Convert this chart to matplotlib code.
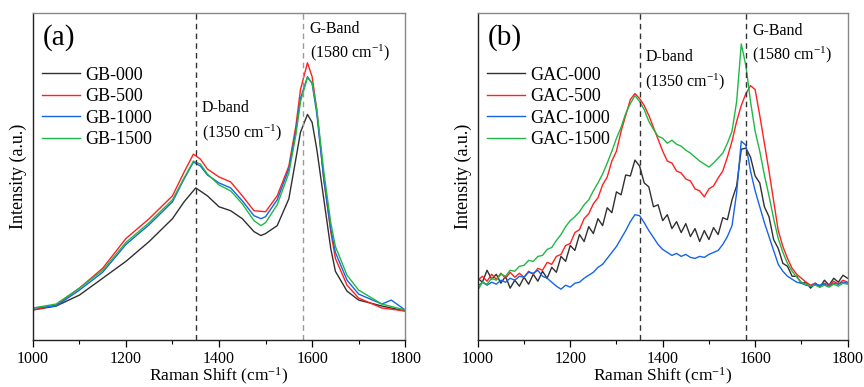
import numpy as np
import matplotlib
matplotlib.use("Agg")
import matplotlib.pyplot as plt
from matplotlib.ticker import MultipleLocator

plt.rcParams['font.family'] = ['Liberation Serif', 'DejaVu Serif']
plt.rcParams['mathtext.fontset'] = 'custom'
plt.rcParams['mathtext.rm'] = 'Liberation Serif'
plt.rcParams['mathtext.it'] = 'Liberation Serif:italic'

# ---- panel (a): GB samples (intensity in arbitrary units) ----
gb_000_x = [1000, 1050, 1100, 1150, 1200, 1250, 1300, 1325, 1350, 1375, 1400, 1425, 1450, 1475,
            1490, 1500, 1525, 1550, 1565, 1575, 1590, 1600, 1610, 1625, 1640, 1650, 1675, 1700,
            1750, 1800]
gb_000_y = [30, 34, 45, 62, 79, 99, 122, 139, 153, 145, 134, 130, 122, 109,
            105, 107, 115, 142, 182, 209, 227, 219, 192, 142, 92, 69, 49, 40,
            34, 29]

gb_500_x = [1000, 1050, 1100, 1150, 1200, 1250, 1300, 1325, 1345, 1360, 1375, 1400, 1425, 1450,
            1475, 1500, 1525, 1550, 1565, 1575, 1590, 1600, 1610, 1625, 1640, 1650, 1675, 1700,
            1750, 1800]
gb_500_y = [30, 35, 52, 72, 102, 122, 145, 169, 187, 182, 172, 164, 159, 145,
            130, 129, 145, 175, 215, 252, 279, 265, 232, 162, 109, 82, 55, 42,
            32, 29]

gb_1000_x = [1000, 1050, 1100, 1150, 1200, 1250, 1300, 1325, 1345, 1360, 1375, 1400, 1425, 1450,
             1475, 1490, 1500, 1525, 1550, 1565, 1575, 1590, 1600, 1610, 1625, 1640, 1650, 1675,
             1700, 1750, 1770, 1800]
gb_1000_y = [32, 34, 50, 68, 96, 116, 139, 162, 179, 175, 166, 158, 153, 140,
             125, 122, 124, 141, 172, 210, 243, 265, 258, 228, 162, 112, 88, 60,
             46, 36, 40, 30]

gb_1500_x = [1000, 1050, 1100, 1150, 1200, 1250, 1300, 1325, 1345, 1360, 1375, 1400, 1425, 1450,
             1475, 1490, 1500, 1525, 1550, 1565, 1575, 1590, 1600, 1610, 1625, 1640, 1650, 1675,
             1700, 1750, 1800]
gb_1500_y = [32, 36, 52, 70, 98, 118, 141, 163, 180, 177, 167, 156, 150, 137,
             120, 115, 118, 136, 168, 206, 240, 264, 259, 232, 170, 118, 94, 65,
             50, 36, 30]

# ---- panel (b): GAC samples, 10 cm-1 steps from 1000 to 1800 ----
gac_x = list(range(1000, 1801, 10))
gac_000 = [62, 58, 70, 61, 66, 57, 64, 52, 60, 54, 63, 56, 66, 59, 69, 62, 73, 68, 84, 79,
           95, 90, 106, 99, 114, 107, 122, 115, 133, 128, 149, 146, 166, 165, 181, 175, 158, 154,
           134, 136, 120, 126, 112, 119, 108, 117, 104, 112, 99, 110, 101, 113, 106, 123, 121,
           141, 155, 192, 193, 184, 165, 158, 134, 124, 101, 92, 77, 74, 64, 64, 57, 58, 52, 57,
           53, 60, 55, 62, 58, 65, 62]
gac_500 = [60, 64, 59, 66, 61, 67, 62, 68, 63, 67, 63, 69, 66, 72, 70, 78, 76, 84, 86, 95,
           97, 108, 111, 122, 127, 137, 143, 156, 164, 180, 190, 210, 226, 242, 248, 243, 236,
           226, 214, 202, 190, 180, 178, 170, 168, 162, 160, 152, 150, 144, 152, 155, 163, 170,
           184, 200, 220, 236, 248, 256, 252, 226, 198, 170, 140, 110, 94, 82, 72, 66, 62, 58,
           55, 57, 54, 57, 55, 59, 56, 60, 58]
gac_1000 = [54, 58, 55, 58, 56, 60, 58, 62, 60, 64, 63, 68, 67, 70, 64, 62, 58, 54, 51, 55,
            53, 57, 58, 62, 65, 68, 73, 76, 82, 88, 94, 102, 110, 119, 126, 125, 118, 110, 103,
            96, 91, 88, 85, 87, 84, 86, 83, 82, 84, 83, 86, 88, 90, 96, 104, 115, 148, 200, 196,
            170, 150, 134, 118, 104, 90, 76, 69, 64, 61, 58, 57, 55, 54, 56, 55, 56, 54, 57, 56,
            58, 57]
gac_1500 = [50, 58, 56, 62, 60, 66, 64, 70, 69, 74, 75, 80, 79, 84, 85, 91, 93, 100, 106, 114,
            120, 124, 129, 136, 141, 150, 158, 167, 178, 190, 203, 214, 228, 238, 246, 240, 232,
            220, 212, 205, 203, 198, 201, 197, 195, 191, 188, 184, 180, 177, 174, 178, 183, 188,
            198, 210, 240, 298, 276, 240, 210, 190, 166, 145, 122, 102, 88, 77, 69, 63, 58, 56,
            54, 55, 53, 55, 53, 56, 54, 57, 56]

colors = ['#303030', '#ff2020', '#1565e8', '#20b845']
gb_labels = ['GB-000', 'GB-500', 'GB-1000', 'GB-1500']
gac_labels = ['GAC-000', 'GAC-500', 'GAC-1000', 'GAC-1500']

fig = plt.figure(figsize=(8.64, 3.87), dpi=100)
ax1 = fig.add_axes([0.038, 0.122, 0.431, 0.844])
ax2 = fig.add_axes([0.553, 0.122, 0.428, 0.844])

gb_sets = [(gb_000_x, gb_000_y), (gb_500_x, gb_500_y), (gb_1000_x, gb_1000_y), (gb_1500_x, gb_1500_y)]
for (xs, ys), c, lab in zip(gb_sets, colors, gb_labels):
    ax1.plot(xs, ys, color=c, lw=1.0, label=lab)

for ys, c, lab in zip([gac_000, gac_500, gac_1000, gac_1500], colors, gac_labels):
    ax2.plot(gac_x, ys, color=c, lw=1.0, label=lab)

# band positions
ax1.axvline(1350, color='#333333', ls='--', lw=1.0, dashes=(4, 3))
ax1.axvline(1580, color='#999999', ls='--', lw=1.0, dashes=(4, 3))
ax2.axvline(1350, color='#333333', ls='--', lw=1.0, dashes=(4, 3))
ax2.axvline(1580, color='#333333', ls='--', lw=1.0, dashes=(4, 3))

for ax, tag in [(ax1, '(a)'), (ax2, '(b)')]:
    ax.set_xlim(1000, 1800)
    ax.set_ylim(0, 329)
    ax.set_yticks([])
    ax.xaxis.set_major_locator(MultipleLocator(200))
    ax.xaxis.set_minor_locator(MultipleLocator(100))
    ax.tick_params(axis='x', which='major', direction='out', length=5, width=0.9,
                   labelsize=11.5, pad=3, top=False)
    ax.tick_params(axis='x', which='minor', direction='out', length=3, width=0.8, top=False)
    ax.set_xlabel('Raman Shift (cm$^{-1}$)', fontsize=12.5, labelpad=-1)
    ax.set_ylabel('Intensity (a.u.)', fontsize=13, labelpad=4)
    for s in ['left', 'bottom']:
        ax.spines[s].set_color('#222222')
        ax.spines[s].set_linewidth(1.0)
    for s in ['top', 'right']:
        ax.spines[s].set_color('#888888')
        ax.spines[s].set_linewidth(1.0)
    ax.text(0.026, 0.925, tag, transform=ax.transAxes, fontsize=21, va='center', ha='left')
    ax.legend(loc='upper left', bbox_to_anchor=(-0.01, 0.875), frameon=False, fontsize=13,
              handlelength=2.1, handletextpad=0.3, labelspacing=0.25, borderaxespad=0.3)

ax1.text(1363, 220, 'D-band\n(1350 cm$^{-1}$)', fontsize=11.5, va='center', ha='left', linespacing=1.4)
ax1.text(1595, 300, 'G-Band\n(1580 cm$^{-1}$)', fontsize=11.5, va='center', ha='left', linespacing=1.4)
ax2.text(1362, 271, 'D-band\n(1350 cm$^{-1}$)', fontsize=11.5, va='center', ha='left', linespacing=1.4)
ax2.text(1593, 298, 'G-Band\n(1580 cm$^{-1}$)', fontsize=11.5, va='center', ha='left', linespacing=1.4)

fig.savefig('out.png', dpi=100)
